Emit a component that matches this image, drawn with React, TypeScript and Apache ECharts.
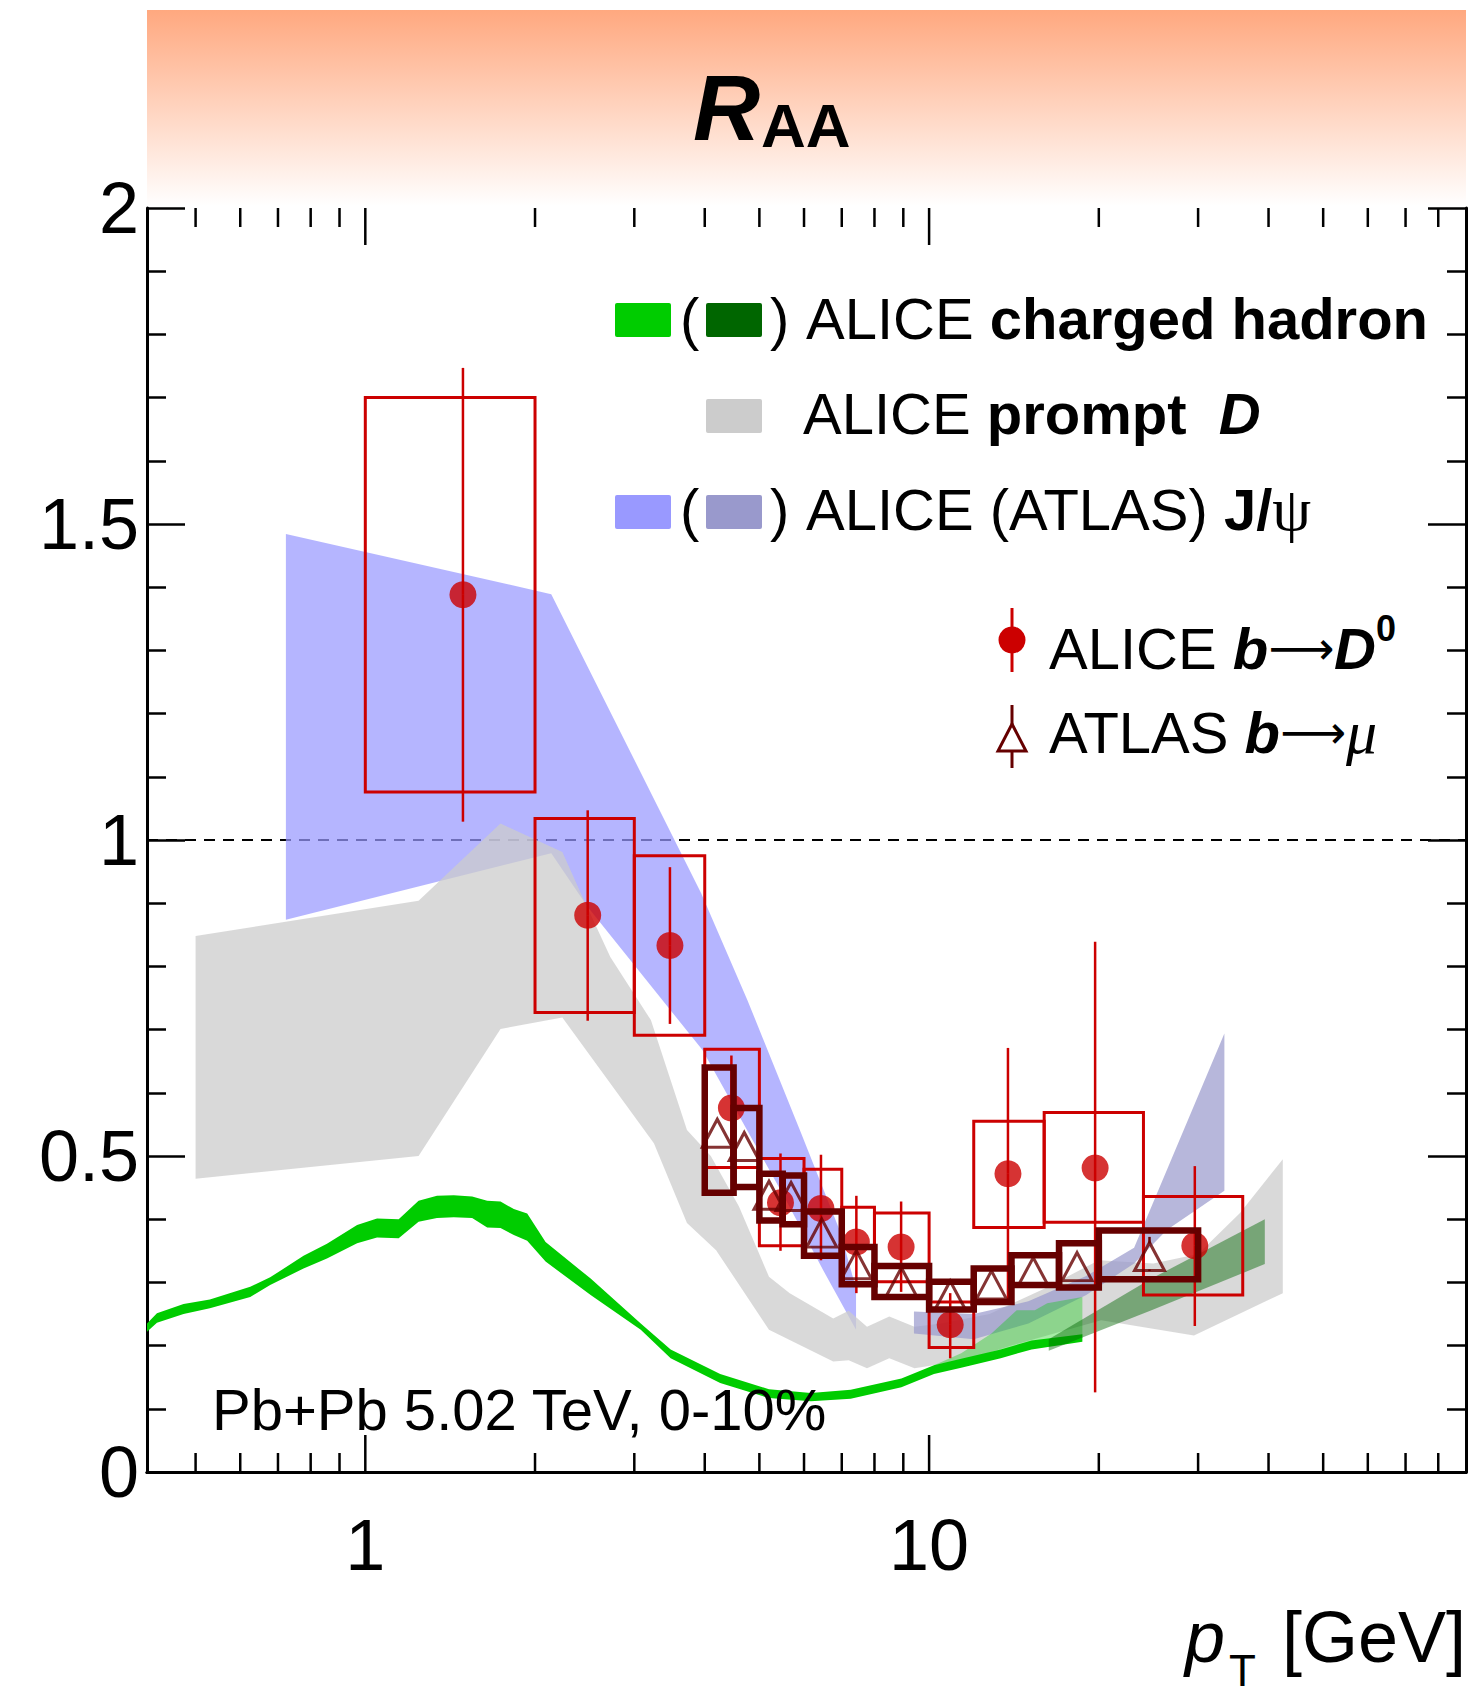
import React, { useEffect, useRef } from "react";
import * as echarts from "echarts";

// ---------------- axes ----------------
const X_MIN = 0.41;
const X_MAX = 89.6;
const xMajorTicks = [1, 10];
const xMinorTicks = [0.5, 0.6, 0.7, 0.8, 0.9, 2, 3, 4, 5, 6, 7, 8, 9, 20, 30, 40, 50, 60, 70, 80];
const xTickLabels = ["1", "10"];
const yTickLabels = ["0", "0.5", "1", "1.5", "2"];

// ---------------- ALICE charged hadron (green band) ----------------
const chPt = [0.41, 0.427, 0.476, 0.53, 0.625, 0.678, 0.777, 0.855, 0.967, 1.049, 1.146, 1.243, 1.34, 1.435, 1.547, 1.645, 1.737, 1.834, 1.937, 2.088, 2.51, 3.08, 3.48, 4.26, 5.2, 6.17, 7.26, 8.93, 10.2, 11.4, 13.4, 15.2, 18.7];
const chUp = [0.235, 0.251, 0.266, 0.273, 0.293, 0.308, 0.342, 0.361, 0.391, 0.401, 0.4, 0.429, 0.437, 0.438, 0.436, 0.429, 0.428, 0.416, 0.409, 0.364, 0.306, 0.235, 0.194, 0.155, 0.131, 0.125, 0.13, 0.148, 0.169, 0.179, 0.194, 0.208, 0.218];
const chLo = [0.222, 0.236, 0.25, 0.259, 0.277, 0.296, 0.322, 0.338, 0.362, 0.371, 0.37, 0.396, 0.402, 0.403, 0.402, 0.387, 0.386, 0.375, 0.366, 0.333, 0.28, 0.225, 0.18, 0.141, 0.117, 0.112, 0.116, 0.134, 0.155, 0.165, 0.18, 0.194, 0.206];

// light (transparent) part of ALICE charged hadron band at high pT
const chWidePt = [10.2, 11.4, 12.9, 14.3, 15.4, 16.2, 18.7];
const chWideUp = [0.169, 0.188, 0.219, 0.256, 0.256, 0.267, 0.277];
const chWideLo = [0.162, 0.172, 0.185, 0.195, 0.203, 0.207, 0.212];

// ATLAS charged hadron (dark green band)
const atlChPt = [16.3, 24.8, 39.4];
const atlChUp = [0.21, 0.306, 0.4];
const atlChLo = [0.192, 0.256, 0.329];

// ---------------- ALICE prompt D (gray band) ----------------
const dUpPt = [0.5, 1.243, 1.737, 2.236, 2.41, 2.72, 3.21, 3.72, 4.1, 4.6, 5.2, 5.66, 6.76, 7.2, 7.76, 8.5, 9.42, 10.5, 12.8, 16, 20, 25, 30, 35.6, 42.4];
const dUp = [0.848, 0.904, 1.026, 0.981, 0.916, 0.815, 0.715, 0.541, 0.5, 0.42, 0.309, 0.283, 0.243, 0.255, 0.23, 0.246, 0.23, 0.235, 0.25, 0.29, 0.335, 0.33, 0.345, 0.41, 0.495];
const dLoPt = [0.5, 1.243, 1.737, 2.236, 3.25, 3.72, 4.19, 5.2, 6.76, 7.2, 7.76, 8.5, 9.42, 11.6, 14, 20.2, 29.5, 42.4];
const dLo = [0.464, 0.5, 0.701, 0.719, 0.52, 0.394, 0.351, 0.225, 0.175, 0.177, 0.164, 0.18, 0.164, 0.177, 0.2, 0.24, 0.216, 0.283];

// ---------------- J/psi bands ----------------
const jpUpPt = [0.723, 2.137, 3.0, 3.94, 4.76, 5.93, 6.97, 7.42];
const jpUp = [1.484, 1.389, 1.127, 0.916, 0.747, 0.536, 0.378, 0.29];
const jpLoPt = [0.723, 2.137, 2.48, 3.96, 5.5, 6.5, 7.42];
const jpLo = [0.874, 0.979, 0.894, 0.668, 0.44, 0.318, 0.225];

const atlJpUpPt = [9.4, 12, 15, 19, 23.1, 33.4];
const atlJpUp = [0.254, 0.25, 0.27, 0.31, 0.355, 0.694];
const atlJpLoPt = [9.4, 12, 15, 19, 23.1, 26.4, 33.4];
const atlJpLo = [0.219, 0.21, 0.235, 0.28, 0.33, 0.383, 0.445];

// ---------------- ALICE b -> D0 ----------------
const alPt = [1.49, 2.48, 3.47, 4.46, 5.45, 6.43, 7.43, 8.92, 10.9, 13.8, 19.7, 29.6];
const alRaa = [1.388, 0.881, 0.833, 0.576, 0.426, 0.417, 0.364, 0.356, 0.233, 0.472, 0.481, 0.358];
const alBinLo = [1, 2, 3, 4, 5, 6, 7, 8, 10, 12, 16, 24];
const alBinHi = [2, 3, 4, 5, 6, 7, 8, 10, 12, 16, 24, 36];
const alStatLo = [1.029, 0.714, 0.709, 0.49, 0.35, 0.335, 0.283, 0.285, 0.18, 0.272, 0.126, 0.231];
const alStatHi = [1.747, 1.047, 0.957, 0.659, 0.504, 0.502, 0.437, 0.428, 0.283, 0.671, 0.839, 0.484];
const alSysLo = [1.076, 0.727, 0.691, 0.482, 0.358, 0.341, 0.296, 0.301, 0.197, 0.387, 0.395, 0.28];
const alSysHi = [1.7, 1.034, 0.975, 0.669, 0.496, 0.479, 0.419, 0.41, 0.269, 0.555, 0.569, 0.436];

// ---------------- ATLAS b -> mu ----------------
const atPt = [4.21, 4.7, 5.2, 5.69, 6.45, 7.43, 8.93, 10.9, 12.9, 15.3, 18.3, 24.6];
const atRaa = [0.536, 0.515, 0.438, 0.436, 0.378, 0.328, 0.301, 0.28, 0.296, 0.317, 0.325, 0.341];
const atBinLo = [4, 4.5, 5, 5.5, 6, 7, 8, 10, 12, 14, 17, 20];
const atBinHi = [4.5, 5, 5.5, 6, 7, 8, 10, 12, 14, 17, 20, 30];
const atStatLo = [0.526, 0.506, 0.43, 0.428, 0.371, 0.322, 0.296, 0.275, 0.29, 0.31, 0.317, 0.318];
const atStatHi = [0.546, 0.524, 0.446, 0.444, 0.385, 0.334, 0.306, 0.285, 0.302, 0.324, 0.333, 0.372];
const atSysLo = [0.442, 0.451, 0.398, 0.392, 0.342, 0.297, 0.277, 0.257, 0.269, 0.296, 0.292, 0.305];
const atSysHi = [0.64, 0.576, 0.472, 0.469, 0.412, 0.356, 0.326, 0.301, 0.322, 0.343, 0.362, 0.382];

const SANS = "'Liberation Sans', Arial, Helvetica, sans-serif";
const SERIF = "'Liberation Serif', 'DejaVu Serif', serif";
const ARROW = "'DejaVu Sans', sans-serif";

function band(name: string, upPt: number[], up: number[], loPt: number[], lo: number[], fill: string, z: number) {
  return {
    type: "custom",
    name,
    z,
    silent: true,
    coordinateSystem: "cartesian2d",
    data: [[1, 1]],
    renderItem: (_p: any, api: any) => {
      const pts: number[][] = [];
      for (let i = 0; i < upPt.length; i++) pts.push(api.coord([upPt[i], up[i]]));
      for (let i = loPt.length - 1; i >= 0; i--) pts.push(api.coord([loPt[i], lo[i]]));
      return { type: "polygon", shape: { points: pts }, style: { fill } };
    },
  };
}

function boxes(name: string, pt: number[], raa: number[], bl: number[], bh: number[], sl: number[], sh: number[], stroke: string, lw: number, z: number) {
  return {
    type: "custom",
    name,
    z,
    silent: true,
    coordinateSystem: "cartesian2d",
    dimensions: ["x", "y", "bl", "bh", "sl", "sh"],
    encode: { x: 0, y: 1 },
    data: pt.map((p, i) => [p, raa[i], bl[i], bh[i], sl[i], sh[i]]),
    renderItem: (_p: any, api: any) => {
      const a = api.coord([api.value(2), api.value(5)]);
      const b = api.coord([api.value(3), api.value(4)]);
      return {
        type: "rect",
        shape: { x: a[0], y: a[1], width: b[0] - a[0], height: b[1] - a[1] },
        style: { fill: "none", stroke, lineWidth: lw },
      };
    },
  };
}

// vertical error bars; the part hidden by the marker (half height `gap` px) is not drawn
function errBars(name: string, pt: number[], raa: number[], lo: number[], hi: number[], stroke: string, lw: number, gap: number, z: number) {
  return {
    type: "custom",
    name,
    z,
    silent: true,
    coordinateSystem: "cartesian2d",
    dimensions: ["x", "y", "lo", "hi"],
    encode: { x: 0, y: 1 },
    data: pt.map((p, i) => [p, raa[i], lo[i], hi[i]]),
    renderItem: (_p: any, api: any) => {
      const c = api.coord([api.value(0), api.value(1)]);
      const a = api.coord([api.value(0), api.value(2)]);
      const b = api.coord([api.value(0), api.value(3)]);
      const children: any[] = [];
      if (b[1] < c[1] - gap) children.push({ type: "line", shape: { x1: c[0], y1: b[1], x2: c[0], y2: c[1] - gap }, style: { stroke, lineWidth: lw } });
      if (a[1] > c[1] + gap) children.push({ type: "line", shape: { x1: c[0], y1: c[1] + gap, x2: c[0], y2: a[1] }, style: { stroke, lineWidth: lw } });
      return { type: "group", children };
    },
  };
}

export default function App() {
  const ref = useRef<HTMLDivElement>(null);
  useEffect(() => {
    document.body.style.margin = "0";
    if (!ref.current) return;
    const chart = echarts.init(ref.current, undefined, { renderer: "svg" });

    const isMajor = (v: number) => xMajorTicks.indexOf(v) >= 0;
    const allTicks = [...xMinorTicks, ...xMajorTicks];

    const txt = (text: string, x: number, y: number, size: number, extra: any = {}) => ({
      type: "text",
      x,
      y,
      z: 50,
      style: { text, fill: "#000", fontSize: size, fontFamily: SANS, verticalAlign: "middle", align: "left", ...extra },
    });

    const richBase = { fontSize: 58, fontFamily: SANS, fill: "#000", lineHeight: 76 };
    const rich = {
      r: { ...richBase },
      b: { ...richBase, fontWeight: "bold" },
      bi: { ...richBase, fontWeight: "bold", fontStyle: "italic" },
      arr: { ...richBase, fontFamily: ARROW, fontSize: 46 },
      psi: { ...richBase, fontFamily: SERIF, fontSize: 62 },
      mu: { ...richBase, fontFamily: SERIF, fontStyle: "italic", fontSize: 62 },
      sup: { fontSize: 36, fontFamily: SANS, fontWeight: "bold", fill: "#000", lineHeight: 36, verticalAlign: "top" },
    };
    const richTxt = (text: string, x: number, y: number) => ({
      type: "text",
      x,
      y,
      z: 50,
      style: { text, rich, verticalAlign: "middle", align: "left", fontSize: 58, fontFamily: SANS },
    });
    const legRect = (x: number, y: number, fill: string) => ({
      type: "rect",
      z: 50,
      shape: { x, y, width: 56, height: 34, r: 2 },
      style: { fill },
    });

    const option: any = {
      animation: false,
      backgroundColor: "#ffffff",
      grid: { left: 147, top: 208, width: 1319, height: 1264, containLabel: false },
      xAxis: [
        {
          type: "log",
          logBase: 10,
          min: X_MIN,
          max: X_MAX,
          position: "bottom",
          axisLine: { show: true, lineStyle: { color: "#000", width: 3 } },
          axisTick: { show: false },
          splitLine: { show: false },
          axisLabel: {
            show: true,
            fontSize: 72,
            lineHeight: 72,
            fontFamily: SANS,
            color: "#000",
            margin: 37,
            showMinLabel: true,
            showMaxLabel: true,
            formatter: (v: number) => {
              for (let i = 0; i < xMajorTicks.length; i++) if (Math.abs(v - xMajorTicks[i]) < 1e-6 * xMajorTicks[i]) return xTickLabels[i];
              return "";
            },
          },
        },
        {
          type: "log",
          logBase: 10,
          min: X_MIN,
          max: X_MAX,
          position: "top",
          axisLine: { show: true, lineStyle: { color: "#000", width: 3 } },
          axisTick: { show: false },
          splitLine: { show: false },
          axisLabel: { show: false },
        },
      ],
      yAxis: [
        {
          type: "value",
          min: 0,
          max: 2,
          interval: 0.5,
          position: "left",
          axisLine: { show: true, lineStyle: { color: "#000", width: 3 } },
          axisTick: { show: true, inside: true, length: 38, lineStyle: { color: "#000", width: 2.5 } },
          minorTick: { show: true, splitNumber: 5, length: 19, lineStyle: { color: "#000", width: 2.5 } },
          splitLine: { show: false },
          axisLabel: {
            fontSize: 72,
            fontFamily: SANS,
            color: "#000",
            margin: 8,
            formatter: (v: number) => yTickLabels[Math.round(v / 0.5)] ?? "",
          },
        },
        {
          type: "value",
          min: 0,
          max: 2,
          interval: 0.5,
          position: "right",
          axisLine: { show: true, lineStyle: { color: "#000", width: 3 } },
          axisTick: { show: true, inside: true, length: 38, lineStyle: { color: "#000", width: 2.5 } },
          minorTick: { show: true, splitNumber: 5, length: 19, lineStyle: { color: "#000", width: 2.5 } },
          splitLine: { show: false },
          axisLabel: { show: false },
        },
      ],
      series: [
        // x ticks (bottom & top), through the log scale
        {
          type: "custom",
          name: "xticks",
          z: 20,
          silent: true,
          coordinateSystem: "cartesian2d",
          data: allTicks.map((v) => [v, 1]),
          renderItem: (_p: any, api: any) => {
            const v = api.value(0);
            const len = isMajor(v) ? 37 : 19;
            const b = api.coord([v, 0]);
            const t = api.coord([v, 2]);
            return {
              type: "group",
              children: [
                { type: "line", shape: { x1: b[0], y1: b[1], x2: b[0], y2: b[1] - len }, style: { stroke: "#000", lineWidth: 2.5 } },
                { type: "line", shape: { x1: t[0], y1: t[1], x2: t[0], y2: t[1] + len }, style: { stroke: "#000", lineWidth: 2.5 } },
              ],
            };
          },
        },
        // dashed unity line
        {
          type: "line",
          name: "unity",
          z: 1,
          silent: true,
          symbol: "none",
          data: [[X_MIN, 1], [X_MAX, 1]],
          lineStyle: { color: "#000", width: 2, type: [11, 8] },
        },
        band("ALICE J/psi", jpUpPt, jpUp, jpLoPt, jpLo, "rgba(153,153,255,0.72)", 2),
        band("ALICE prompt D", dUpPt, dUp, dLoPt, dLo, "rgba(204,204,204,0.75)", 3),
        band("ATLAS J/psi", atlJpUpPt, atlJpUp, atlJpLoPt, atlJpLo, "rgba(153,153,204,0.7)", 4),
        band("ALICE charged hadron wide", chWidePt, chWideUp, chWidePt, chWideLo, "rgba(0,204,0,0.35)", 5),
        band("ALICE charged hadron", chPt, chUp, chPt, chLo, "#00cc00", 6),
        band("ATLAS charged hadron", atlChPt, atlChUp, atlChPt, atlChLo, "rgba(0,102,0,0.45)", 7),
        boxes("ALICE b->D0 sys", alPt, alRaa, alBinLo, alBinHi, alSysLo, alSysHi, "#cc0000", 3, 8),
        errBars("ALICE b->D0 stat", alPt, alRaa, alStatLo, alStatHi, "#cc0000", 2.5, 0, 9),
        {
          type: "scatter",
          name: "ALICE b->D0",
          z: 10,
          silent: true,
          symbol: "circle",
          symbolSize: 27,
          itemStyle: { color: "#cc0000" },
          data: alPt.map((p, i) => [p, alRaa[i]]),
        },
        boxes("ATLAS b->mu sys", atPt, atRaa, atBinLo, atBinHi, atSysLo, atSysHi, "#660000", 6.5, 11),
        errBars("ATLAS b->mu stat", atPt, atRaa, atStatLo, atStatHi, "#660000", 2.5, 13, 12),
        {
          type: "scatter",
          name: "ATLAS b->mu",
          z: 13,
          silent: true,
          symbol: "triangle",
          symbolSize: [30, 28],
          itemStyle: { color: "rgba(0,0,0,0)", borderColor: "#660000", borderWidth: 3 },
          data: atPt.map((p, i) => [p, atRaa[i]]),
        },
      ],
      graphic: [
        {
          type: "rect",
          z: 0,
          shape: { x: 147, y: 10, width: 1319, height: 196 },
          style: {
            fill: {
              type: "linear",
              x: 0,
              y: 0,
              x2: 0,
              y2: 1,
              colorStops: [
                { offset: 0, color: "#ffa87f" },
                { offset: 1, color: "#ffffff" },
              ],
            },
          },
        },
        txt("R", 693, 108, 93, { fontWeight: "bold", fontStyle: "italic" }),
        txt("AA", 761, 125.5, 62, { fontWeight: "bold" }),
        // legend
        legRect(615, 303, "#00cc00"),
        txt("(", 680, 318, 58),
        legRect(706, 303, "#006600"),
        txt(")", 770, 318, 58),
        richTxt("{r|ALICE }{b|charged hadron}", 806, 318),
        legRect(706, 399, "#cccccc"),
        richTxt("{r|ALICE }{b|prompt  }{bi|D}", 803, 413),
        legRect(615, 495, "#9999ff"),
        txt("(", 680, 509, 58),
        legRect(706, 495, "#9999cc"),
        txt(")", 770, 509, 58),
        richTxt("{r|ALICE (ATLAS) }{b|J/}{psi|ψ}", 806, 509),
        { type: "line", z: 50, shape: { x1: 1012, y1: 608, x2: 1012, y2: 672 }, style: { stroke: "#cc0000", lineWidth: 3 } },
        { type: "circle", z: 51, shape: { cx: 1012, cy: 640, r: 13.5 }, style: { fill: "#cc0000" } },
        richTxt("{r|ALICE }{bi|b}{arr|⟶}{bi|D}{sup|0}", 1049, 648),
        { type: "line", z: 50, shape: { x1: 1012, y1: 705, x2: 1012, y2: 724 }, style: { stroke: "#660000", lineWidth: 3 } },
        { type: "line", z: 50, shape: { x1: 1012, y1: 751, x2: 1012, y2: 768 }, style: { stroke: "#660000", lineWidth: 3 } },
        {
          type: "polygon",
          z: 51,
          shape: { points: [[1012, 724], [1026, 751], [998, 751]] },
          style: { fill: "#ffffff", stroke: "#660000", lineWidth: 3 },
        },
        richTxt("{r|ATLAS }{bi|b}{arr|⟶}{mu|μ}", 1049, 732),
        // annotation
        txt("Pb+Pb 5.02 TeV, 0-10%", 212, 1409, 58),
        // x-axis title
        txt("p", 1185, 1637, 72, { fontStyle: "italic" }),
        txt("T", 1229, 1670, 44),
        txt("[GeV]", 1282, 1637, 72),
      ],
    };

    chart.setOption(option);
    return () => chart.dispose();
  }, []);

  return <div ref={ref} style={{ width: 1470, height: 1697 }} />;
}
